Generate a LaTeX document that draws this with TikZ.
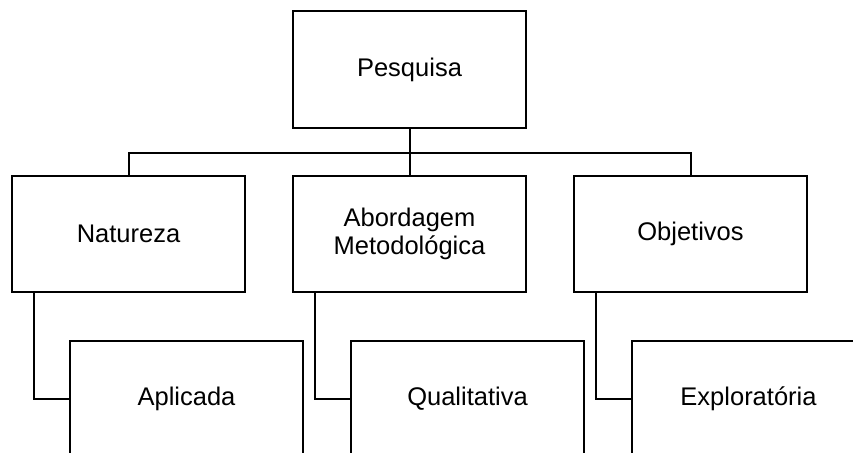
\documentclass[tikz,border=0pt]{standalone}
\usepackage{fontspec}
\setmainfont{Liberation Sans}
\begin{document}
\begin{tikzpicture}[x=1pt,y=-1pt,
  box/.style={draw=black, line width=2pt, rectangle, minimum width=233pt,
    minimum height=116pt, inner sep=2pt, align=center,
    font=\fontsize{25.5}{28}\selectfont},
  link/.style={draw=black, line width=2pt}]
  \useasboundingbox (0,0) rectangle (853,452);
  \clip (0,0) rectangle (853,452);
  % root
  \node[box] (pesq) at (409.5,69.5) {Pesquisa};
  % second level
  \node[box] (nat) at (128.5,234) {Natureza};
  \node[box] (abo) at (409.5,234) {Abordagem\\Metodológica};
  \node[box] (obj) at (690.5,234) {Objetivos};
  % third level
  \node[box] (apl) at (186.5,399) {Aplicada};
  \node[box] (qua) at (467.5,399) {Qualitativa};
  \node[box] (exp) at (748.5,399) {Exploratória};
  % root to second level via a bus line
  \coordinate (bus) at (409.5,152.5);
  \draw[link] (pesq.south) -- (bus);
  \draw[link] (bus) -| (nat.north);
  \draw[link] (bus) -- (abo.north);
  \draw[link] (bus) -| (obj.north);
  % second level to third level
  \draw[link] ([xshift=23pt]nat.south west) |- (apl.west);
  \draw[link] ([xshift=23pt]abo.south west) |- (qua.west);
  \draw[link] ([xshift=23pt]obj.south west) |- (exp.west);
\end{tikzpicture}
\end{document}
